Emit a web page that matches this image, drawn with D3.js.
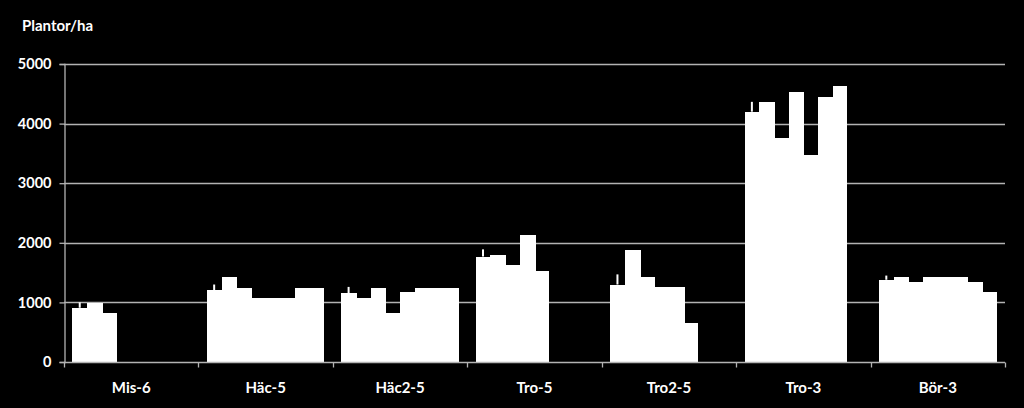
<!DOCTYPE html>
<html>
<head>
<meta charset="utf-8">
<script src="https://cdn.jsdelivr.net/npm/d3@7"></script>
<style>
  html, body { margin: 0; padding: 0; background: #000; }
  svg { display: block; }
  text { font-family: Lato, "Open Sans", sans-serif; font-weight: bold; fill: #fff; }
</style>
</head>
<body>
<svg id="chart" width="1024" height="408"></svg>
<script>
const categories = ["Mis-6", "Häc-5", "Häc2-5", "Tro-5", "Tro2-5", "Tro-3", "Bör-3"];
const mis6  = [910, 990, 820];
const hac5  = [1200, 1420, 1250, 1080, 1080, 1080, 1250, 1250];
const hac25 = [1150, 1080, 1250, 830, 1170, 1250, 1250, 1250];
const tro5  = [1770, 1790, 1620, 2130, 1520];
const tro25 = [1300, 1880, 1430, 1260, 1260, 650];
const tro3  = [4200, 4360, 3760, 4530, 3480, 4450, 4630];
const bor3  = [1380, 1430, 1350, 1430, 1430, 1430, 1350, 1170];
const firstBarError = [90, 100, 110, 120, 170, 165, 70];
const yTicks = [0, 1000, 2000, 3000, 4000, 5000];
const yLabel = "Plantor/ha";

const groups = [mis6, hac5, hac25, tro5, tro25, tro3, bor3];
const maxBars = 8;

const svg = d3.select("#chart");
const mLeft = 64, mRight = 1005, mTop = 64, mBottom = 362;

const x0 = d3.scaleBand().domain(categories).range([mLeft, mRight]).padding(0);
const x1 = d3.scaleBand().domain(d3.range(maxBars)).range([0, x0.bandwidth()])
  .paddingInner(0).paddingOuter(0.57);
const y = d3.scaleLinear().domain([0, 5000]).range([mBottom, mTop]);

const gridColor = "#b3b3b3";

// gridlines
svg.append("g").selectAll("line").data(yTicks.filter(d => d > 0)).join("line")
  .attr("x1", mLeft).attr("x2", mRight)
  .attr("y1", d => Math.round(y(d)) + 0.5).attr("y2", d => Math.round(y(d)) + 0.5)
  .attr("stroke", gridColor).attr("stroke-width", 1.3);

// y axis
const yAxis = svg.append("g").attr("transform", `translate(${mLeft + 0.5},0)`)
  .call(d3.axisLeft(y).tickValues(yTicks).tickSize(5).tickPadding(8).tickFormat(d3.format("d")));
yAxis.select(".domain").attr("stroke", gridColor).attr("stroke-width", 1.3);
yAxis.selectAll(".tick line").attr("stroke", gridColor).attr("stroke-width", 1.3);
yAxis.selectAll("text").style("font-size", "14.5px").attr("fill", "#fff");

// bars
groups.forEach((vals, gi) => {
  const cat = categories[gi];
  svg.append("g").attr("shape-rendering", "crispEdges")
    .selectAll("rect").data(vals).join("rect")
    .attr("x", (d, i) => x0(cat) + x1(i))
    .attr("width", (d, i) => x1.bandwidth() + (i < vals.length - 1 ? 1 : 0))
    .attr("y", d => y(d))
    .attr("height", d => y(0) - y(d))
    .attr("fill", "#fff");
  // error bar on first bar
  const cx = x0(cat) + x1(0) + x1.bandwidth() / 2;
  svg.append("line")
    .attr("x1", cx).attr("x2", cx)
    .attr("y1", y(vals[0])).attr("y2", y(vals[0] + firstBarError[gi]))
    .attr("stroke", "#fff").attr("stroke-width", 2);
});

// x axis
const xAxisG = svg.append("g").attr("transform", `translate(0,${mBottom + 0.5})`);
xAxisG.append("line").attr("x1", mLeft).attr("x2", mRight).attr("y1", 0).attr("y2", 0)
  .attr("stroke", gridColor).attr("stroke-width", 1.3);
const boundaries = categories.map(c => x0(c)).concat([mRight]);
xAxisG.selectAll("line.tk").data(boundaries).join("line").attr("class", "tk")
  .attr("x1", d => Math.round(d) + 0.5).attr("x2", d => Math.round(d) + 0.5)
  .attr("y1", 0).attr("y2", 5)
  .attr("stroke", gridColor).attr("stroke-width", 1.3);
xAxisG.selectAll("text").data(categories).join("text")
  .attr("x", d => x0(d) + x0.bandwidth() / 2)
  .attr("y", 30)
  .attr("text-anchor", "middle")
  .style("font-size", "15px")
  .text(d => d);

// y label
svg.append("text").attr("x", 22).attr("y", 31).style("font-size", "15px").text(yLabel);
</script>
</body>
</html>
